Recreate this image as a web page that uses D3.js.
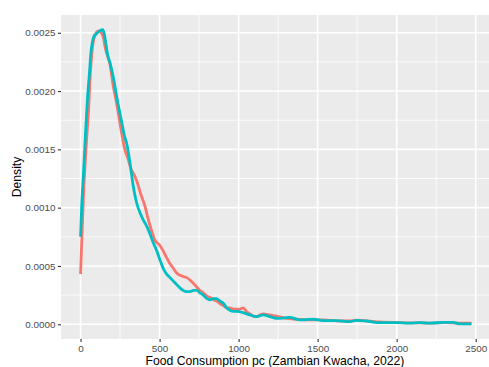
<!DOCTYPE html>
<html>
<head>
<meta charset="utf-8">
<script src="https://cdn.jsdelivr.net/npm/d3@7"></script>
<style>
  html, body { margin: 0; padding: 0; background: #fff; }
  svg { display: block; font-family: "Liberation Sans", Arial, sans-serif; }
</style>
</head>
<body>
<div id="chart"></div>
<script>
// Density estimates (x = consumption, y = density)
var red_x = [0, 10, 20, 30, 40, 50, 60, 70, 80, 92, 105, 120, 132, 144, 155, 166, 186, 207, 225, 240, 260, 280, 300, 320, 340, 355, 380, 408, 430, 450, 471, 500, 523, 545, 566, 587, 608, 630, 650, 672, 692, 715, 735, 755, 776, 800, 819, 840, 861, 880, 903, 925, 945, 965, 987, 1008, 1029, 1050, 1071, 1092, 1114, 1135, 1156, 1177, 1198, 1240, 1303, 1367, 1451, 1535, 1620, 1704, 1746, 1809, 1893, 1999, 2083, 2146, 2209, 2304, 2399, 2473]
var red_y = [0.00043, 0.00080, 0.00115, 0.00140, 0.00162, 0.00182, 0.00210, 0.00230, 0.00242, 0.00248, 0.00251, 0.002515, 0.00250, 0.00246, 0.00238, 0.00232, 0.00223, 0.00204, 0.00192, 0.00180, 0.00164, 0.00150, 0.00142, 0.00133, 0.00128, 0.00123, 0.00112, 0.00101, 0.00089, 0.00080, 0.00072, 0.00068, 0.00063, 0.00057, 0.00052, 0.00048, 0.00044, 0.00042, 0.00041, 0.00040, 0.00038, 0.00035, 0.00032, 0.00029, 0.00027, 0.00024, 0.00023, 0.00021, 0.00020, 0.00018, 0.00016, 0.00014, 0.00014, 0.00013, 0.00013, 0.00013, 0.00014, 0.00011, 0.00009, 0.00007, 0.000065, 0.00008, 0.00009, 0.000085, 0.00008, 0.00007, 0.00005, 0.000043, 0.000037, 0.000037, 0.00003, 0.000028, 0.000035, 0.00003, 0.00002, 0.000015, 0.000012, 0.000012, 0.00001, 0.000015, 0.00001, 0.00001]

var teal_x = [0, 8, 18, 30, 43, 56, 65, 75, 85, 100, 115, 128, 140, 150, 160, 170, 187, 207, 229, 255, 281, 292, 313, 334, 355, 375, 395, 415, 435, 460, 482, 503, 523, 545, 566, 587, 608, 630, 650, 672, 692, 715, 735, 755, 776, 800, 819, 840, 861, 880, 903, 925, 945, 965, 987, 1029, 1071, 1114, 1156, 1198, 1250, 1290, 1324, 1388, 1430, 1472, 1535, 1620, 1704, 1746, 1809, 1893, 1999, 2083, 2146, 2209, 2304, 2357, 2399, 2473]
var teal_y = [0.00075, 0.00104, 0.00128, 0.00160, 0.00192, 0.00215, 0.00232, 0.00242, 0.00247, 0.00249, 0.00251, 0.002522, 0.002526, 0.00249, 0.00241, 0.00232, 0.00224, 0.00212, 0.00195, 0.00177, 0.00160, 0.00155, 0.00138, 0.00118, 0.00104, 0.00096, 0.00090, 0.00085, 0.00079, 0.00070, 0.00063, 0.00055, 0.00048, 0.00043, 0.00040, 0.00037, 0.00034, 0.00031, 0.00029, 0.00028, 0.00028, 0.00029, 0.00029, 0.00027, 0.00025, 0.00022, 0.00021, 0.00022, 0.00022, 0.00020, 0.00018, 0.00014, 0.00012, 0.00011, 0.00011, 0.00010, 0.00008, 0.000065, 0.00008, 0.000065, 0.00005, 0.000055, 0.00006, 0.000037, 0.00004, 0.000043, 0.000031, 0.000031, 0.000022, 0.000034, 0.000028, 0.000014, 0.000014, 0.000009, 0.000014, 0.000009, 0.000017, 0.000017, 0.000003, 0.000003]

var x_ticks = [0, 500, 1000, 1500, 2000, 2500]
var x_minor = [250, 750, 1250, 1750, 2250]
var y_ticks = [0, 0.0005, 0.0010, 0.0015, 0.0020, 0.0025]
var y_minor = [0.00025, 0.00075, 0.00125, 0.00175, 0.00225]

var x_title = "Food Consumption pc (Zambian Kwacha, 2022)"
var y_title = "Density"

canvas = ({width: 489, height: 367})
panel = ({left: 61, right: 491, top: 15, bottom: 339})
red = "#F8766D"
teal = "#00BFC4"

// ggplot-style 5% expansion
xmax = d3.max(red_x.concat(teal_x))
ymax = d3.max(red_y.concat(teal_y))
xpad = xmax * 0.05
ypad = ymax * 0.05

x = d3.scaleLinear()
    .domain([-xpad, xmax + xpad])
    .range([panel.left, panel.right])

y = d3.scaleLinear()
    .domain([-ypad, ymax + ypad])
    .range([panel.bottom, panel.top])

var svg = d3.select("#chart").append("svg")
    .attr("width", canvas.width)
    .attr("height", canvas.height)
    .attr("viewBox", [0, 0, canvas.width, canvas.height])

svg.append("rect")
    .attr("x", panel.left).attr("y", panel.top)
    .attr("width", panel.right - panel.left)
    .attr("height", panel.bottom - panel.top)
    .attr("fill", "#EBEBEB")

// grid
svg.append("g").selectAll("line").data(y_minor).join("line")
    .attr("x1", panel.left).attr("x2", panel.right)
    .attr("y1", d => y(d)).attr("y2", d => y(d))
    .attr("stroke", "#fff").attr("stroke-width", 0.8)
svg.append("g").selectAll("line").data(x_minor).join("line")
    .attr("y1", panel.top).attr("y2", panel.bottom)
    .attr("x1", d => x(d)).attr("x2", d => x(d))
    .attr("stroke", "#fff").attr("stroke-width", 0.8)
svg.append("g").selectAll("line").data(y_ticks).join("line")
    .attr("x1", panel.left).attr("x2", panel.right)
    .attr("y1", d => y(d)).attr("y2", d => y(d))
    .attr("stroke", "#fff").attr("stroke-width", 1.6)
svg.append("g").selectAll("line").data(x_ticks).join("line")
    .attr("y1", panel.top).attr("y2", panel.bottom)
    .attr("x1", d => x(d)).attr("x2", d => x(d))
    .attr("stroke", "#fff").attr("stroke-width", 1.6)

// density lines
line = d3.line()
    .curve(d3.curveMonotoneX)
    .x(d => x(d[0]))
    .y(d => y(d[1]))

svg.append("path")
    .attr("fill", "none")
    .attr("stroke", red)
    .attr("stroke-width", 2.8)
    .attr("stroke-linejoin", "round")
    .attr("d", line(d3.zip(red_x, red_y)))

svg.append("path")
    .attr("fill", "none")
    .attr("stroke", teal)
    .attr("stroke-width", 2.8)
    .attr("stroke-linejoin", "round")
    .attr("d", line(d3.zip(teal_x, teal_y)))

// axes
xAxis = g => g
    .attr("transform", `translate(0,${panel.bottom})`)
    .call(d3.axisBottom(x).tickValues(x_ticks).tickSize(3.1).tickPadding(2.5).tickFormat(d3.format("d")))
    .call(g => g.select(".domain").remove())

yAxis = g => g
    .attr("transform", `translate(${panel.left},0)`)
    .call(d3.axisLeft(y).tickValues(y_ticks).tickSize(3.1).tickPadding(2.5).tickFormat(d3.format(".4f")))
    .call(g => g.select(".domain").remove())

svg.append("g").call(xAxis)
svg.append("g").call(yAxis)

svg.selectAll(".tick line").attr("stroke", "#333333").attr("stroke-width", 1.1)
svg.selectAll(".tick text")
    .attr("fill", "#4D4D4D")
    .attr("font-size", 9.9)
    .attr("font-family", "Liberation Sans, Arial, sans-serif")

svg.append("text")
    .attr("x", (panel.left + 489 + (panel.right - 489)) / 2 - 1)
    .attr("y", 365)
    .attr("text-anchor", "middle")
    .attr("font-size", 12.2)
    .attr("fill", "#000")
    .text(x_title)

svg.append("text")
    .attr("transform", `translate(20.6,${(panel.top + panel.bottom) / 2}) rotate(-90)`)
    .attr("text-anchor", "middle")
    .attr("font-size", 12.2)
    .attr("fill", "#000")
    .text(y_title)
</script>
</body>
</html>
